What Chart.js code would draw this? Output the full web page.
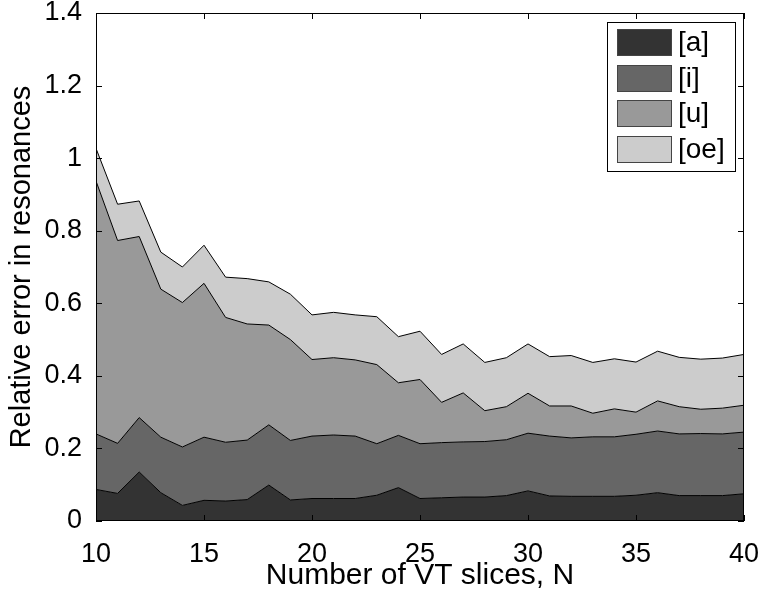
<!DOCTYPE html>
<html>
<head>
<meta charset="utf-8">
<title>Relative error in resonances</title>
<script src="https://cdn.jsdelivr.net/npm/chart.js@4.4.1/dist/chart.umd.min.js"></script>
<style>
  html, body { margin: 0; padding: 0; background: #fff; }
  #graficaError { display: block; }
</style>
</head>
<body>
<canvas id="graficaError" width="761" height="597"></canvas>
<script>
// Number of VT slices (x axis)
const slices = [10, 11, 12, 13, 14, 15, 16, 17, 18, 19, 20, 21, 22, 23, 24, 25,
                26, 27, 28, 29, 30, 31, 32, 33, 34, 35, 36, 37, 38, 39, 40];

// Error of each vowel, stacked on top of each other
const errA  = [0.087, 0.076, 0.135, 0.078, 0.043, 0.057, 0.055, 0.059, 0.099, 0.058, 0.062,
               0.062, 0.062, 0.071, 0.092, 0.062, 0.064, 0.066, 0.066, 0.070, 0.083,
               0.069, 0.068, 0.068, 0.068, 0.071, 0.078, 0.070, 0.070, 0.070, 0.075];
const errI  = [0.153, 0.138, 0.150, 0.153, 0.161, 0.174, 0.162, 0.164, 0.166, 0.164, 0.172,
               0.175, 0.172, 0.142, 0.144, 0.151, 0.152, 0.152, 0.153, 0.154, 0.159,
               0.165, 0.161, 0.164, 0.164, 0.168, 0.170, 0.170, 0.171, 0.170, 0.170];
const errU  = [0.697, 0.559, 0.499, 0.408, 0.398, 0.424, 0.344, 0.320, 0.275, 0.278, 0.211,
               0.213, 0.210, 0.218, 0.145, 0.177, 0.111, 0.135, 0.085, 0.091, 0.110,
               0.083, 0.088, 0.065, 0.077, 0.061, 0.083, 0.075, 0.067, 0.071, 0.074];
const errOe = [0.090, 0.100, 0.098, 0.102, 0.098, 0.105, 0.111, 0.125, 0.119, 0.125, 0.123,
               0.125, 0.124, 0.132, 0.127, 0.133, 0.132, 0.135, 0.133, 0.135, 0.136,
               0.136, 0.139, 0.140, 0.138, 0.138, 0.137, 0.136, 0.138, 0.138, 0.140];

const vocales = ['[a]', '[i]', '[u]', '[oe]'];
const grises = ['#333333', '#666666', '#999999', '#cccccc'];

const xTicks = ['10', '15', '20', '25', '30', '35', '40'];
const yTicks = ['0', '0.2', '0.4', '0.6', '0.8', '1', '1.2', '1.4'];

const fuente = '"Liberation Sans", Arial, Helvetica, sans-serif';

function serie(valores) {
    return valores.map((v, i) => ({ x: slices[i], y: v }));
}

// Frame with inward tick marks on all four sides, matlab style
const marcoPlugin = {
    id: 'marco',
    afterDatasetsDraw(chart) {
        const { ctx, chartArea: a, scales: { x, y } } = chart;
        const largo = 6;
        ctx.save();
        ctx.strokeStyle = '#000';
        ctx.lineWidth = 1;
        ctx.beginPath();
        x.ticks.forEach(t => {
            const px = Math.round(x.getPixelForValue(t.value)) + 0.5;
            ctx.moveTo(px, a.bottom);
            ctx.lineTo(px, a.bottom - largo);
            ctx.moveTo(px, a.top);
            ctx.lineTo(px, a.top + largo);
        });
        y.ticks.forEach(t => {
            const py = Math.round(y.getPixelForValue(t.value)) + 0.5;
            ctx.moveTo(a.left, py);
            ctx.lineTo(a.left + largo, py);
            ctx.moveTo(a.right, py);
            ctx.lineTo(a.right - largo, py);
        });
        ctx.stroke();
        ctx.strokeRect(Math.round(a.left) + 0.5, Math.round(a.top) + 0.5,
                       Math.round(a.right - a.left) - 1, Math.round(a.bottom - a.top) - 1);
        ctx.restore();
    }
};

// Boxed legend in the upper right corner of the axes
const leyendaPlugin = {
    id: 'leyenda',
    afterDraw(chart) {
        const { ctx, chartArea: a } = chart;
        const sets = chart.data.datasets;
        const ancho = 128, alto = 149;
        const x0 = Math.round(a.right) - 9 - ancho;
        const y0 = Math.round(a.top) + 9;
        const paso = 35.7;
        ctx.save();
        ctx.fillStyle = '#fff';
        ctx.fillRect(x0, y0, ancho, alto);
        ctx.strokeStyle = '#000';
        ctx.lineWidth = 1;
        ctx.strokeRect(x0 + 0.5, y0 + 0.5, ancho, alto);
        ctx.font = '28px ' + fuente;
        ctx.textBaseline = 'middle';
        sets.forEach((ds, i) => {
            const sy = Math.round(y0 + 7 + i * paso);
            ctx.fillStyle = ds.backgroundColor;
            ctx.fillRect(x0 + 10, sy, 55, 27);
            ctx.strokeStyle = '#444';
            ctx.strokeRect(x0 + 10.5, sy + 0.5, 54, 26);
            ctx.fillStyle = '#000';
            ctx.fillText(ds.label, x0 + 71, sy + 14);
        });
        ctx.restore();
    }
};

const datos = [errA, errI, errU, errOe];

new Chart(document.getElementById('graficaError').getContext('2d'), {
    type: 'line',
    data: {
        datasets: datos.map((d, i) => ({
            label: vocales[i],
            data: serie(d),
            backgroundColor: grises[i],
            borderColor: '#000',
            borderWidth: 1,
            pointRadius: 0,
            tension: 0,
            fill: i === 0 ? 'origin' : '-1'
        }))
    },
    options: {
        responsive: false,
        animation: false,
        events: [],
        layout: { padding: { top: 13, right: 17, left: 0, bottom: 0 } },
        plugins: {
            legend: { display: false },
            tooltip: { enabled: false }
        },
        scales: {
            x: {
                type: 'linear',
                min: 10,
                max: 40,
                grid: { display: false },
                border: { display: false },
                ticks: {
                    stepSize: 5,
                    padding: 9,
                    color: '#000',
                    font: { family: fuente, size: 27 },
                    maxRotation: 0,
                    callback: (v, i) => xTicks[i]
                },
                title: {
                    display: true,
                    text: 'Number of VT slices, N',
                    color: '#000',
                    font: { family: fuente, size: 30 },
                    padding: { top: 0, bottom: 3 }
                },
                afterFit: s => { s.height = 76; s.paddingRight = 0; s.paddingLeft = 0; }
            },
            y: {
                stacked: true,
                min: 0,
                max: 1.4,
                grid: { display: false },
                border: { display: false },
                ticks: {
                    stepSize: 0.2,
                    padding: 6,
                    color: '#000',
                    font: { family: fuente, size: 27 },
                    callback: (v, i) => yTicks[i]
                },
                title: {
                    display: true,
                    text: 'Relative error in resonances',
                    color: '#000',
                    font: { family: fuente, size: 29 },
                    padding: { top: 5, bottom: 0 }
                },
                afterFit: s => { s.width = 96; s.paddingTop = 0; s.paddingBottom = 0; }
            }
        }
    },
    plugins: [marcoPlugin, leyendaPlugin]
});
</script>
</body>
</html>
